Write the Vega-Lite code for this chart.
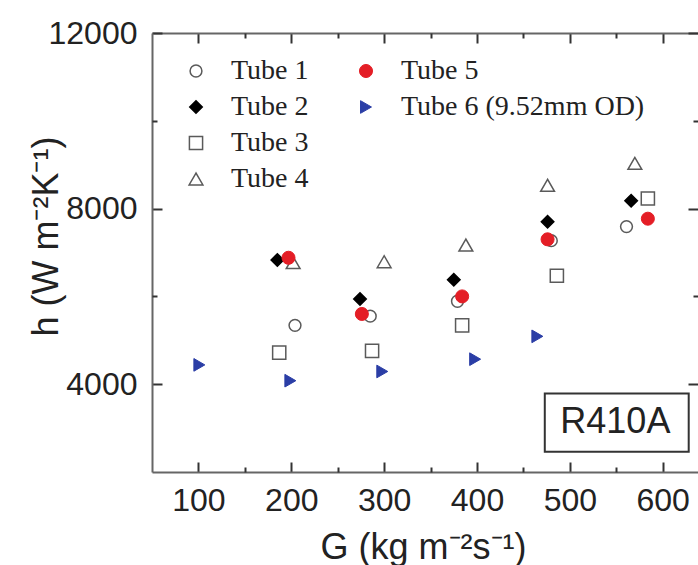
{
  "$schema": "https://vega.github.io/schema/vega-lite/v6.json",
  "width": 546,
  "height": 439,
  "autosize": {"type": "none"},
  "padding": {"left": 152, "top": 33, "right": 0, "bottom": 93},
  "background": "white",
  "config": {
    "view": {"stroke": null},
    "axis": {
      "grid": false,
      "labelFont": "Liberation Sans",
      "labelFontSize": 32,
      "labelColor": "#222222",
      "titleFont": "Liberation Sans",
      "titleFontSize": 36,
      "titleFontWeight": "normal",
      "titleColor": "#222222",
      "domainColor": "#666666",
      "domainWidth": 2,
      "tickColor": "#333333",
      "tickWidth": 2
    }
  },
  "datasets": {
    "points": [
      {"tube": "Tube 1", "G": 204, "h": 5340},
      {"tube": "Tube 1", "G": 285, "h": 5550},
      {"tube": "Tube 1", "G": 379, "h": 5890},
      {"tube": "Tube 1", "G": 480, "h": 7270},
      {"tube": "Tube 1", "G": 561, "h": 7590},
      {"tube": "Tube 2", "G": 185, "h": 6830},
      {"tube": "Tube 2", "G": 274, "h": 5940},
      {"tube": "Tube 2", "G": 375, "h": 6380},
      {"tube": "Tube 2", "G": 476, "h": 7700},
      {"tube": "Tube 2", "G": 566, "h": 8180},
      {"tube": "Tube 3", "G": 187, "h": 4720},
      {"tube": "Tube 3", "G": 287, "h": 4760},
      {"tube": "Tube 3", "G": 384, "h": 5340},
      {"tube": "Tube 3", "G": 486, "h": 6470},
      {"tube": "Tube 3", "G": 584, "h": 8230},
      {"tube": "Tube 4", "G": 202, "h": 6770},
      {"tube": "Tube 4", "G": 300, "h": 6790},
      {"tube": "Tube 4", "G": 388, "h": 7170},
      {"tube": "Tube 4", "G": 476, "h": 8530},
      {"tube": "Tube 4", "G": 570, "h": 9030},
      {"tube": "Tube 5", "G": 197, "h": 6880},
      {"tube": "Tube 5", "G": 276, "h": 5600},
      {"tube": "Tube 5", "G": 384, "h": 6000},
      {"tube": "Tube 5", "G": 476, "h": 7300},
      {"tube": "Tube 5", "G": 584, "h": 7770},
      {"tube": "Tube 6 (9.52mm OD)", "G": 101, "h": 4440},
      {"tube": "Tube 6 (9.52mm OD)", "G": 199, "h": 4080},
      {"tube": "Tube 6 (9.52mm OD)", "G": 298, "h": 4290},
      {"tube": "Tube 6 (9.52mm OD)", "G": 398, "h": 4570},
      {"tube": "Tube 6 (9.52mm OD)", "G": 465, "h": 5090}
    ],
    "box": [{"x1": 473, "x2": 628, "y1": 2460, "y2": 3790}],
    "label": [{"G": 549, "h": 3130, "label": "R410A"}]
  },
  "resolve": {
    "scale": {"shape": "independent", "fill": "independent", "stroke": "independent", "size": "independent"},
    "axis": {"x": "independent", "y": "independent"}
  },
  "layer": [
    {
      "data": {"name": "box"},
      "mark": {"type": "rect", "filled": false, "stroke": "#333333", "strokeWidth": 2},
      "encoding": {
        "x": {"field": "x1", "type": "quantitative",
          "scale": {"domain": [50, 638], "nice": false, "zero": false},
          "axis": {"orient": "bottom", "values": [100, 200, 300, 400, 500, 600], "format": "d", "tickSize": -10, "labelPadding": 23,
            "title": "G (kg m⁻²s⁻¹)", "titleX": 271, "titleY": 86, "titleBaseline": "alphabetic"}},
        "x2": {"field": "x2"},
        "y": {"field": "y1", "type": "quantitative",
          "scale": {"domain": [2000, 12000], "nice": false, "zero": false},
          "axis": {"orient": "left", "values": [4000, 8000, 12000], "format": "d", "tickSize": -10, "labelPadding": 25,
            "title": "h (W m⁻²K⁻¹)", "titleX": -95, "titleY": 203, "titleBaseline": "alphabetic"}},
        "y2": {"field": "y2"}
      }
    },
    {
      "data": {"name": "label"},
      "mark": {"type": "text", "font": "Liberation Sans", "fontSize": 36, "color": "#222222", "baseline": "middle", "align": "center"},
      "encoding": {
        "x": {"field": "G", "type": "quantitative",
          "scale": {"domain": [50, 638], "nice": false, "zero": false},
          "axis": {"orient": "top", "values": [100, 200, 300, 400, 500, 600], "tickSize": -10, "labels": false, "title": null}},
        "y": {"field": "h", "type": "quantitative",
          "scale": {"domain": [2000, 12000], "nice": false, "zero": false},
          "axis": {"orient": "right", "values": [4000, 8000, 12000], "tickSize": -10, "labels": false, "domain": false, "title": null}},
        "text": {"field": "label"}
      }
    },
    {
      "data": {"name": "points"},
      "transform": [{"filter": "datum.tube !== 'Tube 5' && datum.tube !== 'Tube 6 (9.52mm OD)'"}],
      "mark": {"type": "point", "filled": true, "opacity": 1, "strokeWidth": 1.5},
      "encoding": {
        "x": {"field": "G", "type": "quantitative",
          "scale": {"domain": [50, 638], "nice": false, "zero": false},
          "axis": {"orient": "bottom", "values": [150, 250, 350, 450, 550], "tickSize": -5, "labels": false, "domain": false, "title": null}},
        "y": {"field": "h", "type": "quantitative",
          "scale": {"domain": [2000, 12000], "nice": false, "zero": false},
          "axis": {"orient": "left", "values": [6000, 10000], "tickSize": -5, "labels": false, "domain": false, "title": null}},
        "shape": {"field": "tube", "type": "nominal",
          "scale": {"domain": ["Tube 1", "Tube 2", "Tube 3", "Tube 4"], "range": ["circle", "diamond", "square", "triangle-up"]},
          "legend": {"orient": "none", "legendX": 30, "legendY": 24, "title": null, "padding": 0, "labelFont": "Liberation Serif", "labelFontSize": 28, "labelColor": "#222222", "labelLimit": 400, "rowPadding": 8, "labelOffset": 21, "symbolStrokeWidth": 1.5, "symbolOpacity": 1}},
        "fill": {"field": "tube", "type": "nominal",
          "scale": {"domain": ["Tube 1", "Tube 2", "Tube 3", "Tube 4"], "range": ["transparent", "#000000", "transparent", "transparent"]},
          "legend": {"orient": "none", "legendX": 30, "legendY": 24, "title": null, "padding": 0, "labelFont": "Liberation Serif", "labelFontSize": 28, "labelColor": "#222222", "labelLimit": 400, "rowPadding": 8, "labelOffset": 21, "symbolStrokeWidth": 1.5, "symbolOpacity": 1}},
        "stroke": {"field": "tube", "type": "nominal",
          "scale": {"domain": ["Tube 1", "Tube 2", "Tube 3", "Tube 4"], "range": ["#5a5a5a", "#000000", "#5a5a5a", "#5a5a5a"]},
          "legend": {"orient": "none", "legendX": 30, "legendY": 24, "title": null, "padding": 0, "labelFont": "Liberation Serif", "labelFontSize": 28, "labelColor": "#222222", "labelLimit": 400, "rowPadding": 8, "labelOffset": 21, "symbolStrokeWidth": 1.5, "symbolOpacity": 1}},
        "size": {"field": "tube", "type": "nominal",
          "scale": {"domain": ["Tube 1", "Tube 2", "Tube 3", "Tube 4"], "range": [140, 190, 110, 140]},
          "legend": {"orient": "none", "legendX": 30, "legendY": 24, "title": null, "padding": 0, "labelFont": "Liberation Serif", "labelFontSize": 28, "labelColor": "#222222", "labelLimit": 400, "rowPadding": 8, "labelOffset": 21, "symbolStrokeWidth": 1.5, "symbolOpacity": 1}}
      }
    },
    {
      "data": {"name": "points"},
      "transform": [{"filter": "datum.tube === 'Tube 5' || datum.tube === 'Tube 6 (9.52mm OD)'"}],
      "mark": {"type": "point", "filled": true, "opacity": 1, "strokeWidth": 1},
      "encoding": {
        "x": {"field": "G", "type": "quantitative",
          "scale": {"domain": [50, 638], "nice": false, "zero": false},
          "axis": {"orient": "top", "values": [150, 250, 350, 450, 550], "tickSize": -5, "labels": false, "domain": false, "title": null}},
        "y": {"field": "h", "type": "quantitative",
          "scale": {"domain": [2000, 12000], "nice": false, "zero": false},
          "axis": {"orient": "right", "values": [6000, 10000], "tickSize": -5, "labels": false, "domain": false, "title": null}},
        "shape": {"field": "tube", "type": "nominal",
          "scale": {"domain": ["Tube 5", "Tube 6 (9.52mm OD)"], "range": ["circle", "triangle-right"]},
          "legend": {"orient": "none", "legendX": 200, "legendY": 24, "title": null, "padding": 0, "labelFont": "Liberation Serif", "labelFontSize": 28, "labelColor": "#222222", "labelLimit": 400, "rowPadding": 8, "labelOffset": 21, "symbolStrokeWidth": 1, "symbolOpacity": 1}},
        "fill": {"field": "tube", "type": "nominal",
          "scale": {"domain": ["Tube 5", "Tube 6 (9.52mm OD)"], "range": ["#e41e26", "#2b3ea6"]},
          "legend": {"orient": "none", "legendX": 200, "legendY": 24, "title": null, "padding": 0, "labelFont": "Liberation Serif", "labelFontSize": 28, "labelColor": "#222222", "labelLimit": 400, "rowPadding": 8, "labelOffset": 21, "symbolStrokeWidth": 1, "symbolOpacity": 1}},
        "stroke": {"field": "tube", "type": "nominal",
          "scale": {"domain": ["Tube 5", "Tube 6 (9.52mm OD)"], "range": ["#e41e26", "#2b3ea6"]},
          "legend": {"orient": "none", "legendX": 200, "legendY": 24, "title": null, "padding": 0, "labelFont": "Liberation Serif", "labelFontSize": 28, "labelColor": "#222222", "labelLimit": 400, "rowPadding": 8, "labelOffset": 21, "symbolStrokeWidth": 1, "symbolOpacity": 1}},
        "size": {"field": "tube", "type": "nominal",
          "scale": {"domain": ["Tube 5", "Tube 6 (9.52mm OD)"], "range": [170, 160]},
          "legend": {"orient": "none", "legendX": 200, "legendY": 24, "title": null, "padding": 0, "labelFont": "Liberation Serif", "labelFontSize": 28, "labelColor": "#222222", "labelLimit": 400, "rowPadding": 8, "labelOffset": 21, "symbolStrokeWidth": 1, "symbolOpacity": 1}}
      }
    }
  ]
}
